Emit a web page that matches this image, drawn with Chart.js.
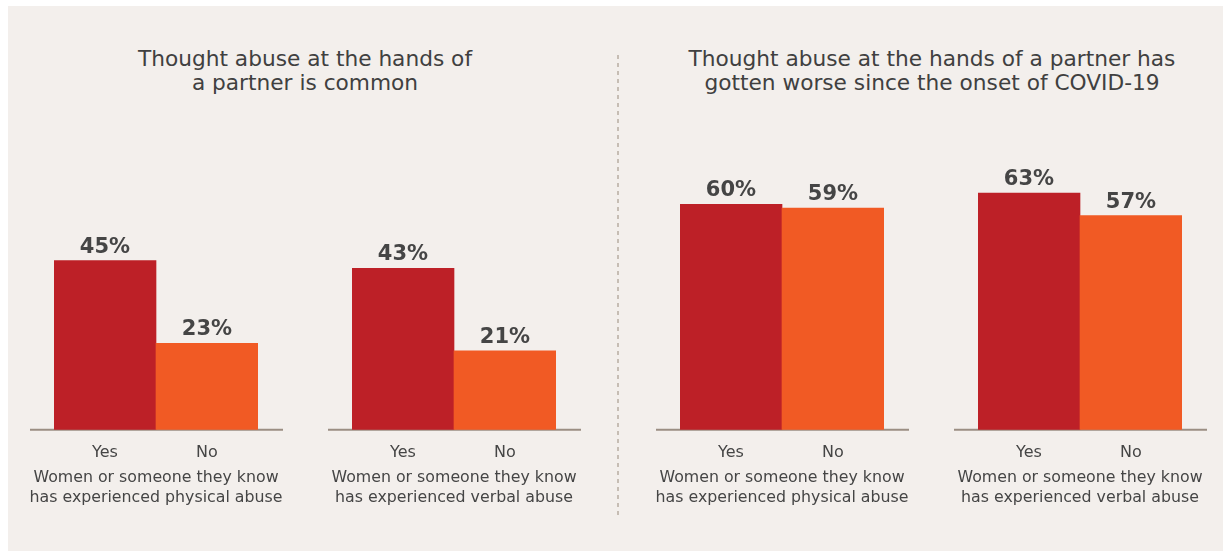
<!DOCTYPE html>
<html>
<head>
<meta charset="utf-8">
<script src="https://cdn.jsdelivr.net/npm/chart.js@4/dist/chart.umd.min.js"></script>
<style>
  html, body { margin: 0; padding: 0; background: #ffffff; }
  body { width: 1223px; height: 551px; position: relative; overflow: hidden; font-family: "DejaVu Sans", sans-serif; }
  #panel { position: absolute; left: 8px; top: 6px; width: 1215px; height: 545px; background: #f3efec; }
  .title { position: absolute; text-align: center; color: #404040; font-size: 21.7px; line-height: 24px; white-space: nowrap; }
  .divider { position: absolute; left: 617px; top: 55px; height: 460px; width: 2px;
             background: repeating-linear-gradient(to bottom, #c6bdb4 0 4px, transparent 4px 8px); }
  .box { position: absolute; }
  canvas { display: block; }
</style>
</head>
<body>
<div id="panel"></div>
<div class="title" style="left:95px; width:420px; top:47px;">Thought abuse at the hands of<br>a partner is common</div>
<div class="title" style="left:662px; width:540px; top:47px;">Thought abuse at the hands of a partner has<br>gotten worse since the onset of COVID-19</div>
<div class="divider"></div>
<div class="box" style="left:30px; top:40px;"><canvas id="c1" width="253" height="495"></canvas></div>
<div class="box" style="left:328px; top:40px;"><canvas id="c2" width="253" height="495"></canvas></div>
<div class="box" style="left:656px; top:40px;"><canvas id="c3" width="253" height="495"></canvas></div>
<div class="box" style="left:954px; top:40px;"><canvas id="c4" width="253" height="495"></canvas></div>
<script>
// Answer categories shared by every panel
const categories = ['Yes', 'No'];

// Percent answering yes / no, per question
const physicalCommon = [45, 23];
const verbalCommon = [43, 21];
const physicalCovid = [60, 59];
const verbalCovid = [63, 57];

// Group captions under each pair of bars
const captionPhysical = ['Women or someone they know', 'has experienced physical abuse'];
const captionVerbal = ['Women or someone they know', 'has experienced verbal abuse'];

const barColors = ['#bd2027', '#f15a24'];
const textColor = '#454545';
const fontFamily = '"DejaVu Sans", sans-serif';

// Baseline rule, value labels above the bars and the two-line group caption
const barDecor = {
  id: 'barDecor',
  beforeDatasetsDraw(chart) {
    const ctx = chart.ctx;
    const area = chart.chartArea;
    const y0 = chart.scales.y.getPixelForValue(0);
    ctx.save();
    ctx.strokeStyle = '#9b8e83';
    ctx.lineWidth = 2;
    ctx.beginPath();
    ctx.moveTo(area.left - 24, y0);
    ctx.lineTo(area.right + 25, y0);
    ctx.stroke();
    ctx.restore();
  },
  afterDatasetsDraw(chart) {
    const ctx = chart.ctx;
    const meta = chart.getDatasetMeta(0);
    const data = chart.data.datasets[0].data;
    ctx.save();
    ctx.fillStyle = textColor;
    ctx.font = 'bold 21px ' + fontFamily;
    ctx.textAlign = 'center';
    ctx.textBaseline = 'alphabetic';
    meta.data.forEach((bar, i) => {
      ctx.fillText(data[i] + '%', bar.x, bar.y - 8);
    });
    ctx.restore();
  },
  afterDraw(chart, args, opts) {
    const ctx = chart.ctx;
    const area = chart.chartArea;
    const y0 = chart.scales.y.getPixelForValue(0);
    const cx = (area.left + area.right) / 2;
    ctx.save();
    ctx.fillStyle = textColor;
    ctx.font = '15.8px ' + fontFamily;
    ctx.textAlign = 'center';
    ctx.textBaseline = 'alphabetic';
    opts.lines.forEach((line, i) => {
      ctx.fillText(line, cx, y0 + 52 + i * 20);
    });
    ctx.restore();
  }
};

function makeChart(id, values, caption) {
  return new Chart(document.getElementById(id), {
    type: 'bar',
    data: {
      labels: categories,
      datasets: [{
        data: values,
        backgroundColor: barColors,
        borderWidth: 0,
        barPercentage: 1,
        categoryPercentage: 1
      }]
    },
    options: {
      responsive: false,
      animation: false,
      devicePixelRatio: 1,
      layout: { padding: { left: 24, right: 25, top: 14, bottom: 60 } },
      plugins: {
        legend: { display: false },
        tooltip: { enabled: false },
        barDecor: { lines: caption }
      },
      scales: {
        x: {
          grid: { display: false, drawTicks: false },
          border: { display: false },
          ticks: { color: textColor, padding: 13, font: { family: fontFamily, size: 16 } }
        },
        y: { display: false, min: 0, max: 100 }
      }
    },
    plugins: [barDecor]
  });
}

makeChart('c1', physicalCommon, captionPhysical);
makeChart('c2', verbalCommon, captionVerbal);
makeChart('c3', physicalCovid, captionPhysical);
makeChart('c4', verbalCovid, captionVerbal);
</script>
</body>
</html>
